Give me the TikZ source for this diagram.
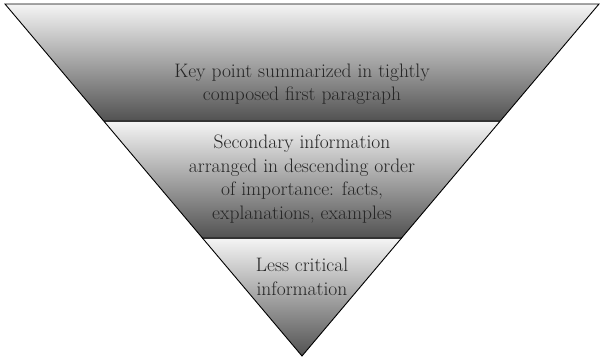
\documentclass[tikz,border=0pt]{standalone}
\usepackage{tikz}

\tikzset{
  band/.style={top color=black!4, bottom color=black!68},
  bandtext/.style={align=center, inner sep=0.75pt, text=black!85,
    font=\fontsize{19.5}{23.5}\selectfont},
}

\begin{document}
\begin{tikzpicture}[x=1pt,y=1pt,yscale=-1,xscale=1]
\path[use as bounding box] (0,0) rectangle (603,360);

%Shape: top band
\shade[band] (5,4) -- (599,4) -- (500.3,121) -- (103.7,121) -- cycle;
%Shape: middle band
\shade[band] (103.7,121) -- (500.3,121) -- (401.6,238) -- (202.4,238) -- cycle;
%Shape: bottom band
\shade[band] (202.4,238) -- (401.6,238) -- (302,356) -- cycle;

%Straight Lines: band borders
\draw[line width=1.6pt, black!80] (103.7,121) -- (500.3,121);
\draw[line width=1.6pt, black!80] (202.4,238) -- (401.6,238);
%Shape: outline
\draw[line width=0.9pt] (5,4) -- (599,4) -- (302,356) -- cycle;

% Text Node
\draw (302,84) node [bandtext] (keypoint) {Key point summarized in tightly\\composed first paragraph};
% Text Node
\draw (302,179) node [bandtext] (secondary) {Secondary information\\arranged in descending order\\of importance: facts,\\explanations, examples};
% Text Node
\draw (302,277) node [bandtext] (lesscritical) {Less critical\\information};

\end{tikzpicture}
\end{document}
